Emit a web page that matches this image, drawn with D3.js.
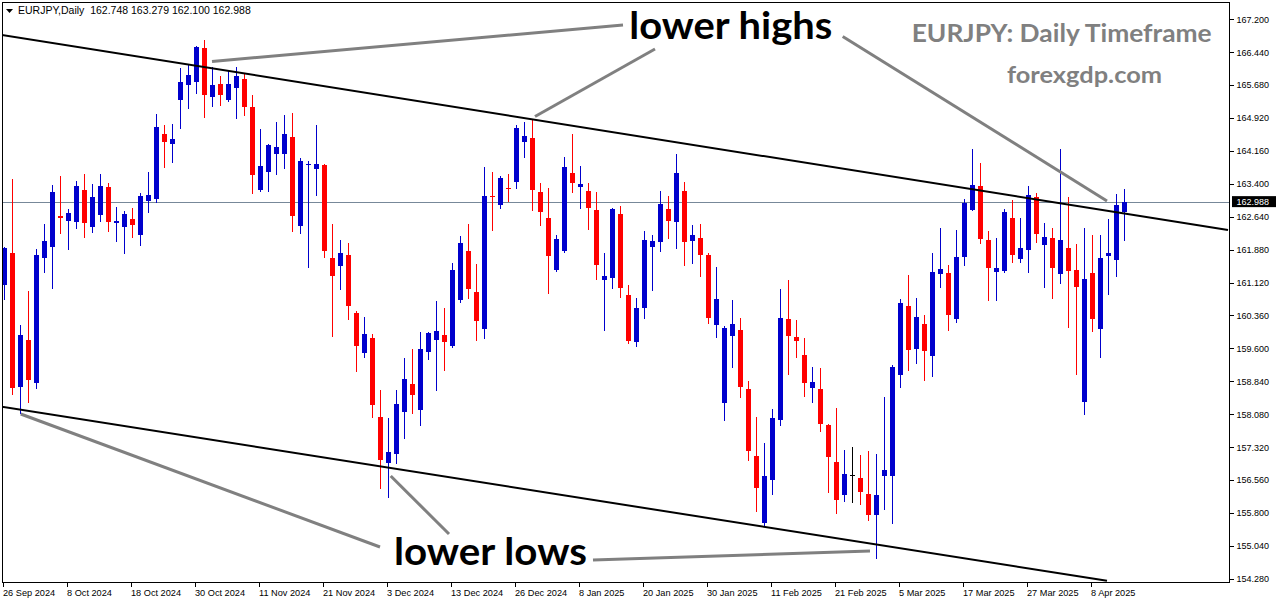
<!DOCTYPE html>
<html><head><meta charset="utf-8">
<script src="https://cdn.jsdelivr.net/npm/d3@7/dist/d3.min.js"></script>
<style>html,body{margin:0;padding:0;background:#fff;}svg{display:block;}</style>
</head><body>
<svg id="c" width="1276" height="604"></svg>
<script>
const symbol = "EURJPY,Daily";
const lastQuote = ["162.748", "163.279", "162.100", "162.988"];
const tickLabels = ["26 Sep 2024","8 Oct 2024","18 Oct 2024","30 Oct 2024","11 Nov 2024","21 Nov 2024","3 Dec 2024","13 Dec 2024","26 Dec 2024","8 Jan 2025","20 Jan 2025","30 Jan 2025","11 Feb 2025","21 Feb 2025","5 Mar 2025","17 Mar 2025","27 Mar 2025","8 Apr 2025"];
const priceTicks = [167.200,166.440,165.680,164.920,164.160,163.400,162.640,161.880,161.120,160.360,159.600,158.840,158.080,157.320,156.560,155.800,155.040,154.280];
const openP = [161.072,161.800,158.719,159.802,158.799,161.694,161.933,162.662,162.537,162.511,163.248,162.395,162.671,163.337,162.484,162.395,162.591,162.209,163.008,163.053,164.553,164.314,165.326,165.690,165.761,166.534,165.397,165.708,165.326,165.601,165.823,165.175,163.266,163.665,164.092,164.092,164.482,162.422,163.825,163.736,163.843,161.694,161.498,161.765,160.406,159.491,159.829,158.026,156.942,157.164,158.141,158.781,158.177,159.518,159.802,159.918,159.651,160.717,161.845,160.912,160.042,163.115,162.910,163.310,163.443,164.358,164.465,163.221,162.617,161.401,161.845,163.648,163.319,163.239,162.804,161.188,161.232,162.706,160.832,159.758,160.539,161.933,162.049,162.813,162.511,163.239,162.076,162.138,161.765,160.140,158.337,159.891,160.033,158.656,157.120,155.566,156.560,157.946,160.273,159.874,159.456,158.674,158.656,157.831,156.969,156.205,156.680,156.605,156.232,155.744,156.658,156.658,158.985,160.583,159.580,160.157,159.420,161.312,161.339,160.273,161.712,162.804,163.355,162.111,161.356,161.383,162.617,161.667,161.862,163.106,161.996,162.138,161.312,161.916,161.419,158.363,161.330,160.042,161.738,161.649,162.748];
const highP = [161.950,163.514,160.140,160.921,161.889,162.475,163.381,163.576,162.822,163.470,163.621,163.399,163.621,163.426,162.875,162.777,162.848,163.177,163.665,165.015,164.758,164.784,166.072,166.161,166.578,166.711,166.090,165.886,166.019,166.090,165.957,165.442,164.660,164.314,164.820,164.997,165.042,163.985,163.932,164.758,163.852,162.475,162.111,162.022,160.468,160.335,159.935,158.630,157.981,158.647,159.385,159.580,159.989,159.989,160.690,160.539,161.561,162.200,162.475,161.543,163.790,163.665,163.585,163.630,164.758,164.820,164.891,163.426,163.310,162.209,164.021,164.553,163.807,163.426,163.204,161.800,162.848,162.893,161.072,160.761,162.315,162.227,163.230,163.115,164.092,163.452,162.449,162.475,161.800,161.490,160.122,160.717,160.308,158.852,158.008,157.404,158.203,160.966,161.188,160.246,159.829,159.180,159.136,157.848,158.212,157.253,157.315,157.138,157.226,157.164,158.479,159.207,160.735,161.285,160.761,160.379,161.800,162.378,161.516,162.342,163.053,164.198,163.887,162.315,162.138,162.822,163.026,162.617,163.355,163.177,162.493,162.386,164.198,163.088,162.005,162.386,162.209,162.209,162.582,163.159,163.279];
const lowP = [160.735,158.541,158.097,158.363,158.674,161.356,161.001,162.271,161.889,162.378,162.164,162.280,162.546,162.315,162.085,161.809,162.164,161.987,162.760,162.982,163.781,163.914,164.687,165.140,165.486,164.935,165.202,165.220,165.300,164.909,164.980,163.177,163.239,163.230,163.630,163.772,162.307,162.271,161.472,163.132,161.720,159.891,160.966,160.273,159.074,159.402,158.026,156.365,156.161,156.942,157.537,158.097,157.831,159.358,158.647,159.101,159.624,160.663,160.761,159.802,159.846,162.333,162.848,162.999,163.292,164.021,162.795,162.449,160.877,161.383,161.830,163.204,162.830,162.351,161.196,160.033,161.001,160.779,159.722,159.651,160.291,160.940,161.845,162.156,161.916,161.516,161.561,161.276,160.184,159.874,157.937,159.163,158.470,157.031,155.850,155.522,156.232,157.831,159.012,159.411,158.497,158.363,157.697,156.276,155.806,156.072,156.054,156.010,155.628,154.761,155.895,155.566,158.719,159.101,159.251,158.870,158.958,161.010,160.033,160.202,161.516,162.800,162.031,160.717,160.717,161.370,161.605,161.605,161.356,162.049,161.028,160.761,161.099,160.095,159.012,158.079,160.006,159.411,160.850,161.276,162.100];
const closeP = [161.916,158.674,159.918,158.870,161.765,162.076,163.204,162.600,162.733,163.355,162.484,163.106,163.355,162.511,162.546,162.706,162.440,163.124,163.141,164.713,164.376,164.438,165.752,165.912,166.560,165.459,165.672,165.459,165.708,165.886,165.175,163.594,163.807,164.287,164.243,164.553,162.653,163.932,163.852,163.852,161.845,161.268,161.800,160.575,159.651,159.935,158.292,157.022,157.200,158.310,158.896,158.523,159.589,159.962,160.006,159.758,161.410,162.031,160.966,160.228,163.115,163.088,163.532,163.283,164.687,164.509,163.248,162.742,161.729,162.129,163.781,163.408,163.399,162.830,161.516,161.268,162.822,161.001,159.775,160.521,162.111,162.076,162.937,162.537,163.648,162.067,162.227,161.756,160.299,160.735,160.068,160.166,158.719,157.235,156.383,156.649,157.981,160.308,159.891,159.775,158.799,158.825,157.857,157.093,156.099,156.702,156.680,156.276,155.744,156.205,156.791,159.163,160.646,159.562,160.335,159.536,161.356,161.428,160.362,161.720,162.964,163.381,162.120,161.454,161.445,162.760,161.747,161.925,163.150,162.244,162.182,161.454,162.111,161.383,161.010,161.205,160.273,161.676,161.809,162.919,162.988];
const currentPrice = 162.988;
// trend channel lines and annotation pointers, as [barIndex, price] pairs
const upperChannel = [[-0.5, 166.845], [153, 162.333]];
const lowerChannel = [[-0.5, 158.257], [137.875, 154.234]];
const highPointers = [[[26, 166.223], [77.375, 167.066]], [[66.375, 164.954], [81.375, 166.512]], [[104.84, 166.801], [137.875, 163.003]]];
const lowPointers = [[[2.09, 158.085], [47, 155.014]], [[48.34, 156.654], [55.625, 155.314]], [[73.625, 154.714], [108.25, 154.922]]];
const notes = [
  {text: "lower highs", i: 78.16, p: 166.736, size: 38, len: 203, color: "#000", weight: 700},
  {text: "lower lows", i: 48.75, p: 154.598, size: 38, len: 193, color: "#000", weight: 700},
  {text: "EURJPY: Daily Timeframe", i: 113.46, p: 166.667, size: 25, len: 300, color: "#808080", weight: 700},
  {text: "forexgdp.com", i: 125.375, p: 165.72, size: 23.5, len: 155, color: "#808080", weight: 700}
];

const svg = d3.select("#c");
const L = 2, T = 2, R = 1229, B = 582;
const n = openP.length;
const x = d3.scaleLinear().domain([0, n - 1]).range([4, 4 + 8 * (n - 1)]);
const y = d3.scaleLinear().domain([154.206, 167.597]).range([B, T]);

svg.append("defs").append("clipPath").attr("id", "plot")
  .append("rect").attr("x", L).attr("y", T).attr("width", R - L).attr("height", B - T);

const g = svg.append("g").attr("clip-path", "url(#plot)");

// current price line
g.append("line").attr("x1", L).attr("x2", R)
  .attr("y1", Math.round(y(currentPrice)) + 0.5).attr("y2", Math.round(y(currentPrice)) + 0.5)
  .attr("stroke", "#778899").attr("stroke-width", 1);

// candles
const bars = d3.range(n).map(i => ({i, o: openP[i], h: highP[i], l: lowP[i], c: closeP[i]}));
const col = d => d.c > d.o ? "#0000cc" : (d.c < d.o ? "#ff0000" : "#000000");
const cg = g.append("g").attr("shape-rendering", "crispEdges");
cg.selectAll("line.w").data(bars).join("line").attr("class", "w")
  .attr("x1", d => x(d.i) + 0.5).attr("x2", d => x(d.i) + 0.5)
  .attr("y1", d => Math.round(y(d.h))).attr("y2", d => Math.round(y(d.l)) + 1)
  .attr("stroke", col).attr("stroke-width", 1);
cg.selectAll("rect.b").data(bars).join("rect").attr("class", "b")
  .attr("x", d => x(d.i) - 2).attr("width", 5)
  .attr("y", d => Math.round(y(Math.max(d.o, d.c))))
  .attr("height", d => Math.max(1, Math.round(y(Math.min(d.o, d.c))) - Math.round(y(Math.max(d.o, d.c)))))
  .attr("fill", col);

// channel lines
const line = d3.line().x(d => x(d[0])).y(d => y(d[1]));
[upperChannel, lowerChannel].forEach(s => g.append("path").attr("d", line(s))
  .attr("fill", "none").attr("stroke", "#000").attr("stroke-width", 2));

// annotation pointers
highPointers.concat(lowPointers).forEach(s => g.append("path").attr("d", line(s))
  .attr("fill", "none").attr("stroke", "#808080").attr("stroke-width", 3));

// annotation texts
notes.forEach(t => g.append("text").attr("x", x(t.i)).attr("y", y(t.p))
  .attr("font-family", "Lato, 'Open Sans', sans-serif").attr("font-weight", t.weight)
  .attr("font-size", t.size).attr("fill", t.color)
  .attr("textLength", t.len).attr("lengthAdjust", "spacingAndGlyphs").text(t.text));

// header
svg.append("path").attr("d", "M6,9 L13,9 L9.5,13 Z").attr("fill", "#000");
svg.append("text").attr("x", 18).attr("y", 14).attr("font-family", "'Liberation Sans', Arial, sans-serif")
  .attr("font-size", 10.5).attr("fill", "#000").attr("xml:space", "preserve")
  .text(symbol + "  " + lastQuote.join(" "));

// frame
svg.append("rect").attr("x", L + 0.5).attr("y", T + 0.5).attr("width", R - L).attr("height", B - T)
  .attr("fill", "none").attr("stroke", "#000").attr("stroke-width", 1).attr("shape-rendering", "crispEdges");

// right price axis
const ya = svg.append("g").attr("transform", `translate(${R + 0.5},0)`)
  .call(d3.axisRight(y).tickValues(priceTicks).tickFormat(d3.format(".3f")).tickSize(4).tickPadding(3));
ya.select(".domain").remove();
ya.selectAll("line").attr("stroke", "#000").attr("shape-rendering", "crispEdges");
ya.selectAll("text").attr("font-family", "'Liberation Sans', Arial, sans-serif").attr("font-size", 9).attr("fill", "#000");

// current price tag
const cy = y(currentPrice);
svg.append("rect").attr("x", R + 3).attr("y", cy - 5.5).attr("width", 1276 - R - 3).attr("height", 11).attr("fill", "#000");
svg.append("text").attr("x", R + 7.5).attr("y", cy + 3.5).attr("font-family", "'Liberation Sans', Arial, sans-serif")
  .attr("font-size", 9).attr("fill", "#fff").text(currentPrice.toFixed(3));

// bottom time axis
const tickIdx = tickLabels.map((_, k) => k * 8);
const xa = svg.append("g").attr("transform", `translate(0,${B + 0.5})`);
xa.selectAll("line").data(tickIdx).join("line")
  .attr("x1", d => x(d) - 0.5).attr("x2", d => x(d) - 0.5).attr("y1", 0).attr("y2", 4)
  .attr("stroke", "#000").attr("shape-rendering", "crispEdges");
xa.selectAll("text").data(tickIdx).join("text")
  .attr("x", d => x(d) - 1).attr("y", 13.5)
  .attr("font-family", "'Liberation Sans', Arial, sans-serif").attr("font-size", 9.2).attr("fill", "#000")
  .text((d, k) => tickLabels[k]);
</script>
</body></html>
